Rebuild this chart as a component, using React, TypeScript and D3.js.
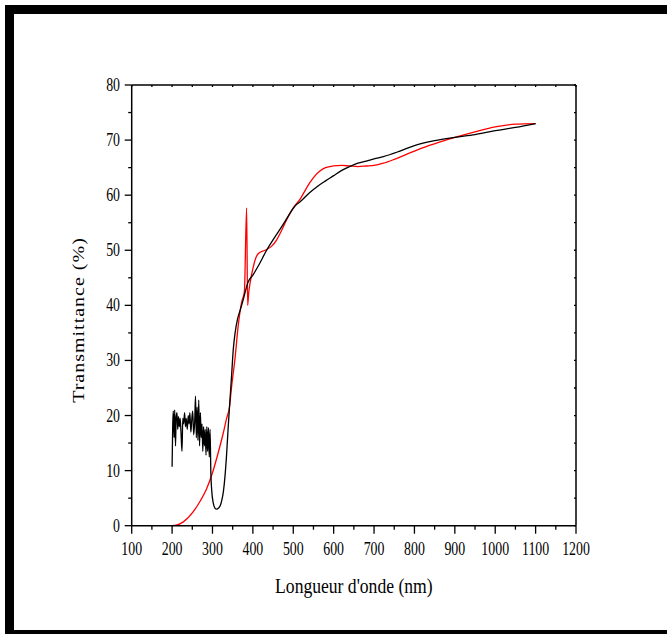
import React from 'react';
import * as d3 from 'd3';

// wavelength (nm) / transmittance (%)
const measuredNm = [200, 201.5, 203, 205, 206.5, 208.5, 210, 212, 214, 216, 218, 220, 222, 224.5, 226.5, 228.5, 231, 233, 235, 237.5, 240, 242, 244, 246.5, 249, 251, 253.5, 256, 258, 260, 262, 264, 266, 268, 270, 272, 274, 276, 278, 280, 282, 284, 286, 288, 290, 292, 294, 296, 298, 302, 306, 310, 315, 319, 323, 327, 331, 335, 339, 343, 347.5, 351.5, 356, 362, 368, 376, 388, 400, 413, 434, 467, 475, 508, 517, 541, 558, 580, 599, 620, 640, 660, 681, 700, 723, 764, 800, 850, 900, 950, 1000, 1050, 1100];
const measuredT = [10.7, 18, 20.8, 16, 21, 14.5, 19.5, 20.5, 17.5, 19.8, 18, 19.5, 17, 13.5, 19.5, 18.5, 20.5, 18, 19.5, 17.5, 20, 18.5, 20.5, 17, 19.5, 20.8, 16.5, 19, 23.5, 16, 21.5, 15.5, 22.8, 14.5, 20.5, 16, 18.5, 13.5, 18, 14.5, 17.5, 12.8, 18, 13.5, 17.8, 12.5, 17.5, 9.5, 6.5, 4.1, 3.2, 3.0, 3.2, 3.6, 4.6, 6.2, 9, 13, 18, 22.5, 27.5, 32, 35, 37.5, 39, 41, 44.2, 45.5, 47.1, 50, 53.8, 54.7, 58.3, 58.8, 60.5, 61.5, 62.6, 63.5, 64.5, 65.2, 65.8, 66.2, 66.6, 67, 68, 69, 69.9, 70.5, 71, 71.7, 72.3, 73];

const fitNm = [200, 210, 228, 252, 269, 285, 300, 314, 326, 335, 342, 347, 356, 364, 372, 379, 384.5, 387, 390, 393, 401, 409, 415, 430, 446, 459, 467, 484, 500, 517, 541, 566, 580, 599, 620, 640, 660, 681, 700, 723, 750, 780, 820, 860, 900, 950, 1000, 1050, 1100];
const fitT = [0, 0.1, 0.7, 2.5, 4.4, 6.6, 9.6, 13.2, 16.6, 19.5, 21.5, 25, 30.5, 36.5, 40.5, 42.5, 57.7, 40, 42.5, 44, 47, 48.9, 49.5, 50, 50.7, 51.9, 53, 55.6, 57.7, 59.3, 62.3, 64.4, 65, 65.3, 65.4, 65.3, 65.2, 65.3, 65.4, 65.8, 66.5, 67.4, 68.6, 69.6, 70.5, 71.5, 72.4, 72.9, 73];

const xTicks = [100, 200, 300, 400, 500, 600, 700, 800, 900, 1000, 1100, 1200];
const yTicks = [0, 10, 20, 30, 40, 50, 60, 70, 80];

const W = 667;
const H = 634;
const left = 131.7, right = 576, top = 85, bottom = 525.7;
const FONT = "'Liberation Serif', 'Times New Roman', serif";

export default function App() {
  const x = d3.scaleLinear().domain([100, 1200]).range([left, right]);
  const y = d3.scaleLinear().domain([0, 80]).range([bottom, top]);

  const mkPath = (xs: number[], ys: number[]) =>
    d3.line<number>()
      .x(i => x(xs[i]))
      .y(i => y(ys[i]))
      .curve(d3.curveMonotoneX)(xs.map((_, i) => i)) || '';

  const xMinor = d3.range(150, 1200, 100);
  const yMinor = d3.range(5, 80, 10);

  return (
    <svg width={W} height={H} style={{ position: 'absolute', left: 0, top: 0, background: '#fff' }}>
      {/* outer frame */}
      <rect x={9.5} y={9.5} width={700} height={625} fill="none" stroke="#000" strokeWidth={9} />

      {/* curves */}
      <path d={mkPath(fitNm, fitT)} fill="none" stroke="#ff0000" strokeWidth={1.3} />
      <path d={mkPath(measuredNm, measuredT)} fill="none" stroke="#000" strokeWidth={1.3} />

      {/* box */}
      <g stroke="#000" strokeWidth={1.5} fill="none">
        <line x1={left} x2={right} y1={top} y2={top} />
        <line x1={right} x2={right} y1={top} y2={bottom} />
        <line x1={left} x2={left} y1={top} y2={bottom} />
        <line x1={left} x2={right} y1={bottom} y2={bottom} />
      </g>

      {/* ticks */}
      <g stroke="#000" strokeWidth={1.3}>
        {xTicks.map(t => <line key={'xt' + t} x1={x(t)} x2={x(t)} y1={bottom} y2={bottom + 8} />)}
        {xMinor.map(t => <line key={'xm' + t} x1={x(t)} x2={x(t)} y1={bottom} y2={bottom + 4} />)}
        {xTicks.concat(xMinor).map(t => <line key={'xtop' + t} x1={x(t)} x2={x(t)} y1={top} y2={top + 2} />)}
        {yTicks.map(t => <line key={'yt' + t} x1={left - 7} x2={left} y1={y(t)} y2={y(t)} />)}
        {yMinor.map(t => <line key={'ym' + t} x1={left - 3.5} x2={left} y1={y(t)} y2={y(t)} />)}
        {yTicks.concat(yMinor).map(t => <line key={'yr' + t} x1={right - 2} x2={right} y1={y(t)} y2={y(t)} />)}
      </g>

      {/* tick labels */}
      <g fontFamily={FONT} fontSize={18} fill="#000">
        {xTicks.map(t => (
          <g key={'xl' + t} transform={`translate(${x(t)},555) scale(0.77,1)`}>
            <text textAnchor="middle">{t}</text>
          </g>
        ))}
        {yTicks.map(t => (
          <g key={'yl' + t} transform={`translate(120,${y(t) + 6}) scale(0.77,1)`}>
            <text textAnchor="end">{t}</text>
          </g>
        ))}
      </g>

      {/* axis titles */}
      <g transform={`translate(${(left + right) / 2},593) scale(0.8,1)`}>
        <text textAnchor="middle" fontFamily={FONT} fontSize={22} fill="#000">Longueur d'onde (nm)</text>
      </g>
      <g transform="translate(84,320) rotate(-90) scale(1,0.8)">
        <text textAnchor="middle" fontFamily={FONT} fontSize={20} letterSpacing={1} fill="#000">Transmittance (%)</text>
      </g>
    </svg>
  );
}
